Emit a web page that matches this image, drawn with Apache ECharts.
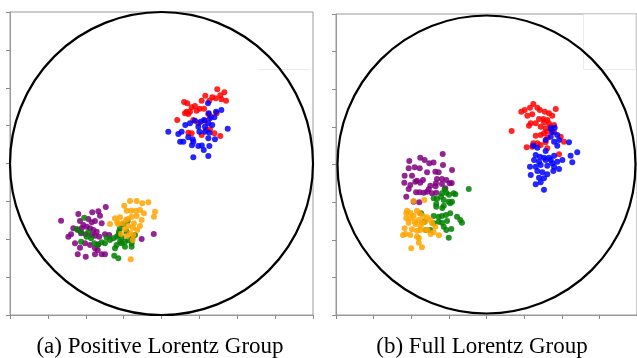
<!DOCTYPE html>
<html>
<head>
<meta charset="utf-8">
<script src="https://cdn.jsdelivr.net/npm/echarts@6/dist/echarts.min.js"></script>
<style>
  html, body { margin: 0; padding: 0; background: #fff; }
  #chart { width: 637px; height: 358px; }
</style>
</head>
<body>
<div id="chart"></div>
<script>
// Poincare disk coordinates
const captionA = '(a) Positive Lorentz Group';
const captionB = '(b) Full Lorentz Group';
const tickStep = 0.25;

// (a) positive Lorentz group
const posRed = [[0.368,0.490],[0.415,0.470],[0.388,0.450],[0.289,0.448],[0.335,0.437],[0.358,0.430],[0.395,0.424],[0.426,0.415],[0.316,0.415],[0.265,0.415],[0.149,0.406],[0.170,0.397],[0.221,0.380],[0.199,0.371],[0.252,0.362],[0.281,0.362],[0.166,0.342],[0.188,0.342],[0.232,0.349],[0.177,0.327],[0.155,0.331],[0.309,0.327],[0.364,0.331],[0.327,0.309],[0.104,0.287],[0.210,0.287],[0.287,0.283],[0.243,0.265],[0.177,0.203],[0.320,0.226],[0.349,0.199],[0.388,0.182],[0.199,0.199],[0.265,0.188],[0.298,0.221]];
const posBlue = [[0.307,0.397],[0.395,0.353],[0.312,0.331],[0.360,0.342],[0.320,0.298],[0.349,0.305],[0.281,0.287],[0.221,0.283],[0.259,0.276],[0.188,0.265],[0.157,0.254],[0.335,0.254],[0.287,0.243],[0.243,0.243],[0.309,0.265],[0.045,0.210],[0.133,0.210],[0.111,0.195],[0.250,0.210],[0.287,0.210],[0.316,0.203],[0.437,0.230],[0.177,0.173],[0.206,0.160],[0.144,0.144],[0.210,0.144],[0.309,0.166],[0.353,0.160],[0.243,0.116],[0.316,0.116],[0.279,0.089],[0.201,0.120],[0.210,0.041],[0.309,0.050],[0.123,0.144],[0.266,0.118]];
const posPurple = [[-0.368,-0.287],[-0.417,-0.316],[-0.457,-0.322],[-0.549,-0.333],[-0.406,-0.345],[-0.483,-0.366],[-0.663,-0.378],[-0.538,-0.380],[-0.439,-0.380],[-0.461,-0.388],[-0.516,-0.406],[-0.395,-0.395],[-0.494,-0.417],[-0.582,-0.428],[-0.527,-0.428],[-0.472,-0.428],[-0.553,-0.439],[-0.450,-0.439],[-0.428,-0.450],[-0.597,-0.467],[-0.615,-0.483],[-0.531,-0.461],[-0.500,-0.467],[-0.461,-0.472],[-0.439,-0.477],[-0.411,-0.483],[-0.373,-0.467],[-0.345,-0.472],[-0.571,-0.527],[-0.505,-0.527],[-0.538,-0.556],[-0.472,-0.538],[-0.417,-0.533],[-0.439,-0.560],[-0.421,-0.571],[-0.553,-0.599],[-0.439,-0.599],[-0.395,-0.599],[-0.373,-0.599],[-0.500,-0.615],[-0.131,-0.498],[-0.051,-0.465]];
const posGreen = [[-0.510,-0.358],[-0.560,-0.432],[-0.531,-0.454],[-0.483,-0.454],[-0.494,-0.483],[-0.531,-0.516],[-0.465,-0.494],[-0.444,-0.527],[-0.395,-0.520],[-0.373,-0.527],[-0.421,-0.538],[-0.362,-0.490],[-0.340,-0.505],[-0.318,-0.494],[-0.296,-0.483],[-0.281,-0.450],[-0.274,-0.428],[-0.252,-0.401],[-0.223,-0.380],[-0.285,-0.472],[-0.263,-0.490],[-0.296,-0.538],[-0.263,-0.527],[-0.274,-0.516],[-0.241,-0.516],[-0.219,-0.505],[-0.193,-0.494],[-0.175,-0.472],[-0.230,-0.450],[-0.197,-0.527],[-0.241,-0.549],[-0.197,-0.549],[-0.307,-0.560],[-0.312,-0.609],[-0.285,-0.626]];
const posOrange = [[-0.246,-0.279],[-0.208,-0.248],[-0.164,-0.248],[-0.127,-0.263],[-0.087,-0.256],[-0.230,-0.312],[-0.201,-0.312],[-0.170,-0.312],[-0.142,-0.307],[-0.116,-0.329],[-0.043,-0.318],[-0.050,-0.351],[-0.307,-0.362],[-0.274,-0.355],[-0.234,-0.373],[-0.197,-0.351],[-0.164,-0.347],[-0.131,-0.373],[-0.340,-0.399],[-0.292,-0.388],[-0.256,-0.395],[-0.219,-0.413],[-0.182,-0.395],[-0.160,-0.439],[-0.208,-0.461],[-0.186,-0.472],[-0.190,-0.505],[-0.203,-0.632],[-0.287,-0.399],[-0.241,-0.432],[-0.221,-0.366],[-0.188,-0.426],[-0.142,-0.413],[-0.228,-0.479],[-0.267,-0.465]];

// (b) full Lorentz group
const fullRed = [[0.311,0.402],[0.289,0.377],[0.338,0.377],[0.254,0.362],[0.231,0.351],[0.355,0.362],[0.387,0.351],[0.415,0.340],[0.460,0.369],[0.437,0.324],[0.271,0.324],[0.304,0.334],[0.377,0.302],[0.404,0.296],[0.349,0.302],[0.294,0.274],[0.282,0.258],[0.327,0.274],[0.382,0.280],[0.415,0.274],[0.360,0.251],[0.393,0.241],[0.427,0.251],[0.449,0.262],[0.404,0.218],[0.167,0.223],[0.327,0.191],[0.360,0.196],[0.382,0.207],[0.449,0.214],[0.493,0.185],[0.404,0.178],[0.311,0.141],[0.338,0.141],[0.267,0.114],[0.304,0.118],[0.360,0.130],[0.393,0.148],[0.515,0.151],[0.482,0.068],[0.404,0.108]];
const fullBlue = [[0.427,0.241],[0.453,0.245],[0.437,0.218],[0.470,0.196],[0.427,0.185],[0.482,0.163],[0.393,0.163],[0.449,0.151],[0.548,0.148],[0.470,0.125],[0.311,0.125],[0.338,0.112],[0.393,0.090],[0.327,0.063],[0.355,0.052],[0.382,0.045],[0.415,0.045],[0.449,0.058],[0.559,0.058],[0.603,0.081],[0.316,0.030],[0.349,0.019],[0.393,0.030],[0.427,0.030],[0.470,0.019],[0.504,0.030],[0.437,0.008],[0.570,0.015],[0.289,-0.015],[0.327,-0.015],[0.360,-0.003],[0.404,-0.008],[0.449,-0.015],[0.482,-0.030],[0.338,-0.043],[0.371,-0.052],[0.404,-0.065],[0.444,-0.043],[0.294,-0.070],[0.349,-0.088],[0.382,-0.092],[0.327,-0.132],[0.360,-0.118],[0.382,-0.167]];
const fullPurple = [[-0.291,0.070],[-0.440,0.045],[-0.411,0.030],[-0.380,0.008],[-0.352,0.013],[-0.513,0.023],[-0.477,-0.019],[-0.517,-0.025],[-0.444,-0.025],[-0.395,-0.052],[-0.340,-0.048],[-0.318,-0.052],[-0.289,-0.003],[-0.229,-0.037],[-0.544,-0.074],[-0.495,-0.074],[-0.462,-0.108],[-0.422,-0.103],[-0.329,-0.096],[-0.296,-0.096],[-0.267,-0.103],[-0.546,-0.121],[-0.506,-0.136],[-0.473,-0.114],[-0.440,-0.121],[-0.373,-0.141],[-0.336,-0.125],[-0.296,-0.130],[-0.245,-0.125],[-0.517,-0.163],[-0.468,-0.185],[-0.444,-0.185],[-0.417,-0.187],[-0.395,-0.181],[-0.384,-0.165],[-0.362,-0.191],[-0.334,-0.187],[-0.274,-0.158],[-0.533,-0.214],[-0.447,-0.251],[-0.484,-0.247],[-0.231,-0.123],[-0.338,-0.145]];
const fullGreen = [[-0.118,-0.163],[-0.278,-0.165],[-0.296,-0.191],[-0.267,-0.187],[-0.218,-0.191],[-0.207,-0.198],[-0.351,-0.225],[-0.329,-0.229],[-0.302,-0.214],[-0.284,-0.236],[-0.251,-0.247],[-0.241,-0.258],[-0.229,-0.247],[-0.334,-0.262],[-0.334,-0.280],[-0.284,-0.274],[-0.435,-0.324],[-0.351,-0.342],[-0.318,-0.347],[-0.296,-0.342],[-0.269,-0.336],[-0.241,-0.324],[-0.196,-0.347],[-0.174,-0.369],[-0.163,-0.387],[-0.318,-0.380],[-0.296,-0.387],[-0.262,-0.375],[-0.284,-0.413],[-0.267,-0.435],[-0.234,-0.429],[-0.251,-0.486],[-0.413,-0.380],[-0.402,-0.435],[-0.373,-0.435],[-0.351,-0.391],[-0.249,-0.201],[-0.294,-0.289]];
const fullOrange = [[-0.484,-0.243],[-0.413,-0.236],[-0.528,-0.307],[-0.504,-0.322],[-0.462,-0.307],[-0.533,-0.357],[-0.506,-0.357],[-0.484,-0.342],[-0.444,-0.324],[-0.422,-0.342],[-0.395,-0.351],[-0.373,-0.369],[-0.517,-0.387],[-0.477,-0.380],[-0.450,-0.369],[-0.429,-0.387],[-0.407,-0.380],[-0.362,-0.391],[-0.340,-0.413],[-0.544,-0.424],[-0.495,-0.431],[-0.462,-0.440],[-0.440,-0.435],[-0.407,-0.435],[-0.351,-0.450],[-0.555,-0.468],[-0.506,-0.468],[-0.462,-0.480],[-0.450,-0.520],[-0.500,-0.557],[-0.429,-0.550],[-0.533,-0.324],[-0.391,-0.435],[-0.437,-0.411],[-0.470,-0.395],[-0.316,-0.470],[-0.371,-0.462],[-0.537,-0.462],[-0.449,-0.488]];

// disk boundary: center x, center y, radius
const diskA = [[0, 0, 1]];
const diskB = [[0, 0, 0.99]];

const colors = { red: '#ff0000', blue: '#0000ff', purple: '#800080', green: '#008000', orange: '#ffa500' };

const chart = echarts.init(document.getElementById('chart'));

function axis(idx, pos) {
    return {
        gridIndex: idx,
        type: 'value',
        position: pos,
        min: -1,
        max: 1,
        interval: tickStep,
        axisLine: { show: true, onZero: false, lineStyle: { color: '#9a9a9a', width: 1 } },
        axisTick: { show: true, length: 4, lineStyle: { color: '#8a8a8a' } },
        axisLabel: { show: false },
        splitLine: { show: false }
    };
}

function dots(data, color, idx) {
    return {
        type: 'scatter',
        xAxisIndex: idx,
        yAxisIndex: idx,
        data: data,
        symbol: 'circle',
        symbolSize: 6,
        itemStyle: { color: color, opacity: 0.85 },
        silent: true
    };
}

function disk(data, idx) {
    return {
        type: 'custom',
        xAxisIndex: idx,
        yAxisIndex: idx,
        data: data,
        clip: false,
        z: 5,
        silent: true,
        renderItem: function (params, api) {
            const c = api.coord([api.value(0), api.value(1)]);
            const s = api.size([api.value(2), api.value(2)]);
            return {
                type: 'circle',
                shape: { cx: c[0], cy: c[1], r: s[0] },
                style: { fill: 'none', stroke: '#000', lineWidth: 2.2 }
            };
        }
    };
}

const option = {
    animation: false,
    backgroundColor: '#fff',
    grid: [
        { left: 10, top: 12, width: 303, height: 303, show: true, borderColor: '#9a9a9a', borderWidth: 1, backgroundColor: 'transparent' },
        { left: 336, top: 14, width: 302, height: 301, show: true, borderColor: '#9a9a9a', borderWidth: 1, backgroundColor: 'transparent' }
    ],
    xAxis: [axis(0, 'bottom'), axis(1, 'bottom')],
    yAxis: [axis(0, 'left'), axis(1, 'left')],
    graphic: [
        // faint empty legend frames
        { type: 'line', shape: { x1: 258, y1: 69.5, x2: 310, y2: 69.5 }, style: { stroke: '#ececec', lineWidth: 1 } },
        { type: 'rect', shape: { x: 583.5, y: 14.5, width: 52, height: 55 }, style: { fill: 'none', stroke: '#ececec', lineWidth: 1 } },
        { type: 'text', x: 160, y: 347, style: { text: captionA, fontFamily: 'Liberation Serif', fontSize: 23, fill: '#000', textAlign: 'center', textVerticalAlign: 'middle' } },
        { type: 'text', x: 482, y: 347, style: { text: captionB, fontFamily: 'Liberation Serif', fontSize: 23, fill: '#000', textAlign: 'center', textVerticalAlign: 'middle' } }
    ],
    series: [
        dots(posRed, colors.red, 0),
        dots(posBlue, colors.blue, 0),
        dots(posPurple, colors.purple, 0),
        dots(posGreen, colors.green, 0),
        dots(posOrange, colors.orange, 0),
        disk(diskA, 0),
        dots(fullRed, colors.red, 1),
        dots(fullBlue, colors.blue, 1),
        dots(fullPurple, colors.purple, 1),
        dots(fullGreen, colors.green, 1),
        dots(fullOrange, colors.orange, 1),
        disk(diskB, 1)
    ]
};

chart.setOption(option);
</script>
</body>
</html>
